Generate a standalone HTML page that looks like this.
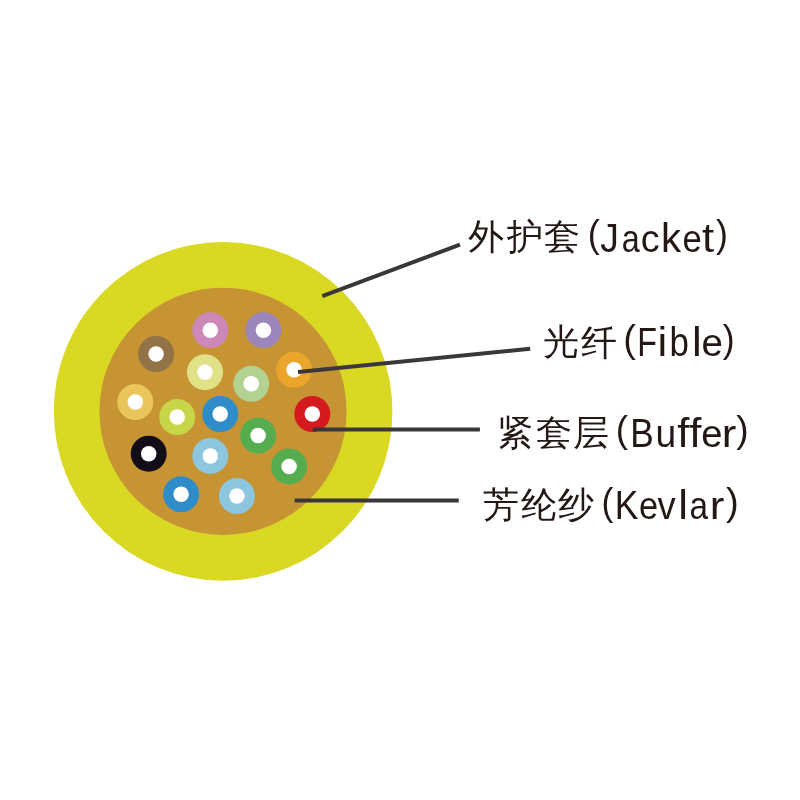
<!DOCTYPE html>
<html><head><meta charset="utf-8"><style>
html,body{margin:0;padding:0;background:#fff;width:800px;height:800px;overflow:hidden}
svg{display:block;will-change:transform}
text{font-family:"Liberation Sans",sans-serif;font-size:38px;fill:#231815}
</style></head><body>
<svg width="800" height="800" viewBox="0 0 800 800" xmlns="http://www.w3.org/2000/svg">
<circle cx="223.1" cy="411.4" r="169.3" fill="#D9D923"/>
<circle cx="223.0" cy="411.3" r="123.6" fill="#C69433"/>
<circle cx="210.3" cy="330.2" r="18" fill="#CC88B8"/><circle cx="210.3" cy="330.2" r="7.75" fill="#fff"/>
<circle cx="263.4" cy="330.2" r="18" fill="#9C85BA"/><circle cx="263.4" cy="330.2" r="7.75" fill="#fff"/>
<circle cx="156.1" cy="354.0" r="18" fill="#927247"/><circle cx="156.1" cy="354.0" r="7.75" fill="#fff"/>
<circle cx="205.0" cy="372.2" r="18" fill="#E1E187"/><circle cx="205.0" cy="372.2" r="7.75" fill="#fff"/>
<circle cx="251.2" cy="383.8" r="18" fill="#B2D291"/><circle cx="251.2" cy="383.8" r="7.75" fill="#fff"/>
<circle cx="294.1" cy="369.8" r="18" fill="#EBA52B"/><circle cx="294.1" cy="369.8" r="7.75" fill="#fff"/>
<circle cx="135.3" cy="402.0" r="18" fill="#E9C55A"/><circle cx="135.3" cy="402.0" r="7.75" fill="#fff"/>
<circle cx="177.2" cy="417.1" r="18" fill="#C9D549"/><circle cx="177.2" cy="417.1" r="7.75" fill="#fff"/>
<circle cx="220.2" cy="414.0" r="18" fill="#2E8CC8"/><circle cx="220.2" cy="414.0" r="7.75" fill="#fff"/>
<circle cx="312.3" cy="414.0" r="18" fill="#D51A1F"/><circle cx="312.3" cy="414.0" r="7.75" fill="#fff"/>
<circle cx="258.1" cy="435.6" r="18" fill="#55AD50"/><circle cx="258.1" cy="435.6" r="7.75" fill="#fff"/>
<circle cx="148.7" cy="453.7" r="18" fill="#130D17"/><circle cx="148.7" cy="453.7" r="7.75" fill="#fff"/>
<circle cx="210.3" cy="455.9" r="18" fill="#8CC6DF"/><circle cx="210.3" cy="455.9" r="7.75" fill="#fff"/>
<circle cx="289.1" cy="466.4" r="18" fill="#55AD50"/><circle cx="289.1" cy="466.4" r="7.75" fill="#fff"/>
<circle cx="181.1" cy="494.3" r="18" fill="#2E8CC8"/><circle cx="181.1" cy="494.3" r="7.75" fill="#fff"/>
<circle cx="236.9" cy="496.1" r="18" fill="#8CC6DF"/><circle cx="236.9" cy="496.1" r="7.75" fill="#fff"/>
<g stroke="#3B3738" stroke-width="4" fill="none"><line x1="322.3" y1="296.2" x2="460" y2="244.7"/><line x1="298" y1="372.1" x2="530.2" y2="348.8"/><line x1="312.9" y1="429.5" x2="479.9" y2="429.5"/><line x1="294.6" y1="500.4" x2="458.75" y2="500.4"/></g>
<text transform="translate(468.41,249.10) scale(0.945)">外</text>
<text transform="translate(506.73,249.33) scale(0.945)">护</text>
<text transform="translate(544.34,249.12) scale(0.945)">套</text>
<text transform="translate(542.53,354.40) scale(0.945)">光</text>
<text transform="translate(580.71,354.64) scale(0.945)">纤</text>
<text transform="translate(496.88,445.21) scale(0.945)">紧</text>
<text transform="translate(535.52,444.67) scale(0.945)">套</text>
<text transform="translate(572.58,445.35) scale(0.945)">层</text>
<text transform="translate(483.02,517.40) scale(0.945)">芳</text>
<text transform="translate(521.02,517.27) scale(0.945)">纶</text>
<text transform="translate(558.03,516.99) scale(0.945)">纱</text>
<text transform="translate(587.74,246.77) scale(0.9500,1.0062)">(</text>
<text transform="translate(715.97,246.77) scale(0.9400,1.0062)">)</text>
<text transform="translate(600.29,251.50) scale(0.9806,1.06)">J</text>
<text transform="translate(621.69,251.50) scale(0.8500,1.03)">a</text>
<text transform="translate(640.79,251.50) scale(0.9951,1.03)">c</text>
<text transform="translate(661.11,251.50) scale(1.0576,1.08)">k</text>
<text transform="translate(682.52,251.50) scale(0.9116,1.03)">e</text>
<text transform="translate(701.95,251.50) scale(1.1500,1.07)">t</text>
<text transform="translate(623.22,351.98) scale(1.0000,1.0175)">(</text>
<text transform="translate(722.87,351.98) scale(0.9400,1.0175)">)</text>
<text transform="translate(637.23,356.40) scale(0.8500,1.06)">F</text>
<text transform="translate(657.38,356.40) scale(1.1500,1.08)">i</text>
<text transform="translate(669.61,356.40) scale(0.9176,1.08)">b</text>
<text transform="translate(692.06,356.40) scale(1.1500,1.08)">l</text>
<text transform="translate(701.46,356.40) scale(1.0151,1.03)">e</text>
<text transform="translate(615.80,442.40) scale(0.9650,0.9963)">(</text>
<text transform="translate(736.36,442.40) scale(0.9800,0.9963)">)</text>
<text transform="translate(630.36,446.90) scale(0.9255,1.06)">B</text>
<text transform="translate(655.56,446.90) scale(0.9770,1.03)">u</text>
<text transform="translate(677.36,446.90) scale(1.1500,1.08)">f</text>
<text transform="translate(689.23,446.90) scale(1.1500,1.08)">f</text>
<text transform="translate(701.37,446.90) scale(1.0067,1.03)">e</text>
<text transform="translate(721.66,446.90) scale(1.1500,1.03)">r</text>
<text transform="translate(601.52,514.81) scale(0.9350,1.0076)">(</text>
<text transform="translate(725.95,514.81) scale(1.0100,1.0076)">)</text>
<text transform="translate(614.79,519.40) scale(0.9329,1.06)">K</text>
<text transform="translate(639.03,519.40) scale(0.9060,1.03)">e</text>
<text transform="translate(657.39,519.40) scale(0.9542,1.03)">v</text>
<text transform="translate(678.33,519.40) scale(1.1500,1.08)">l</text>
<text transform="translate(689.48,519.40) scale(0.8769,1.03)">a</text>
<text transform="translate(709.76,519.40) scale(1.1500,1.03)">r</text>
</svg>
</body></html>
